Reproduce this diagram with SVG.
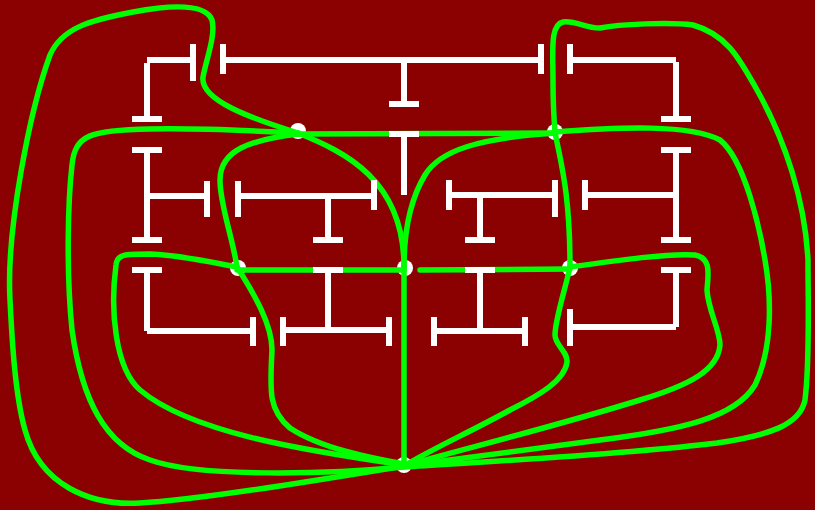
<svg xmlns="http://www.w3.org/2000/svg" width="815" height="510" viewBox="0 0 815 510">
<style>
.w{stroke:#fff;stroke-width:6;fill:none;stroke-linecap:butt}
.g{stroke:#00ff00;stroke-width:5.5;fill:none;stroke-linecap:round;stroke-linejoin:round}
.dot{fill:#fff}
</style>
<rect width="815" height="510" fill="#8b0000"/>
<g id="nodes">
<g id="nA"><circle class="dot" cx="298" cy="131" r="8"/></g>
<g id="nB"><circle class="dot" cx="555" cy="132" r="8"/></g>
<g id="nC"><circle class="dot" cx="238" cy="268" r="8"/></g>
<g id="nD"><circle class="dot" cx="405" cy="268" r="8"/></g>
<g id="nE"><circle class="dot" cx="570" cy="268" r="8"/></g>
<g id="nF"><circle class="dot" cx="404" cy="465" r="8"/></g>
</g>
<g id="connectors">
<path class="g" d="M404,466 C330,478 200,500 140,503 C90,506 40,485 25,430 C15,395 12,340 10,300 C6,230 30,110 50,55 C62,28 90,20 133,12 C165,6 205,2 212,20 C216,35 206,60 203,77 C200,100 250,118 298,133"/>
<path class="g" d="M298,133 C345,152 404,180 404,267"/>
<path class="g" d="M404,467 C330,474 200,478 150,460 C105,445 82,400 72,330 C66,270 68,200 72,165 C75,135 90,130 150,129 C200,128 260,131 298,133"/>
<path class="g" d="M404,465 C300,450 190,432 140,390 C115,368 110,310 116,265 C117,254 125,254 150,254 C180,255 210,262 237,267"/>
<path class="g" d="M237,267 C255,295 272,325 272,350 C270,390 268,410 290,428 C320,448 370,458 404,464"/>
<path class="g" d="M298,134 C250,140 220,150 220,180 C220,205 232,235 237,267"/>
<path class="g" d="M298,134 L555,133"/>
<path class="g" d="M237,270 L404,270"/>
<path class="g" d="M420,270 L570,269"/>
<path class="g" d="M404,267 V465"/>
<path class="g" d="M555,133 C480,138 440,150 425,175 C410,200 404,230 404,267"/>
<path class="g" d="M404,467 C480,462 620,455 717,443 C770,435 800,425 805,400 C810,360 808,300 808,260 C805,200 785,140 757,90 C740,60 728,35 693,25 C670,22 620,24 600,28 C585,28 575,20 563,22 C550,25 553,50 553,80 C553,105 554,120 555,132"/>
<path class="g" d="M555,132 C560,160 570,190 570,267"/>
<path class="g" d="M570,267 C565,290 555,320 555,335 C555,345 568,352 567,362 C565,380 540,395 510,410 C470,432 430,450 404,466"/>
<path class="g" d="M555,132 C620,127 690,124 720,140 C745,160 760,230 765,260 C772,300 772,350 755,385 C735,418 680,430 600,440 C520,450 450,460 404,466"/>
<path class="g" d="M570,267 C620,260 670,253 695,255 C712,258 708,275 707,290 C708,310 720,330 720,345 C718,370 690,385 640,400 C560,425 460,450 404,466"/>
</g>
<g id="tree" class="w">
<path d="M147,60 H193 M193,44 V81 M147,63 V117 M132,119 H162"/>
<path d="M223,44 V74 M223,60 H541 M541,44 V74 M404,60 V101 M389,104 H419"/>
<path d="M570,44 V74 M570,60 H676 M676,62 V117 M661,119 H691"/>
<path d="M132,150 H162 M147,150 V240 M132,240 H162 M147,196 H207 M207,181 V217"/>
<path d="M238,181 V217 M238,196 H374 M374,180 V210 M328,196 V240 M313,240 H343"/>
<path d="M389,134 H419 M404,134 V195"/>
<path d="M449,180 V210 M449,195 H555 M555,180 V217 M480,195 V240 M465,240 H495"/>
<path d="M585,180 V210 M585,195 H676 M661,150 H691 M676,150 V240 M661,240 H691"/>
<path d="M132,270 H162 M147,270 V331 M147,331 H253 M253,317 V346"/>
<path d="M283,317 V346 M283,330 H389 M389,317 V346 M328,270 V330 M313,270 H343"/>
<path d="M434,317 V346 M434,331 H525 M525,317 V346 M480,270 V331 M465,270 H495"/>
<path d="M661,270 H691 M676,270 V327 M570,327 H676 M570,309 V346"/>
</g>
</svg>
